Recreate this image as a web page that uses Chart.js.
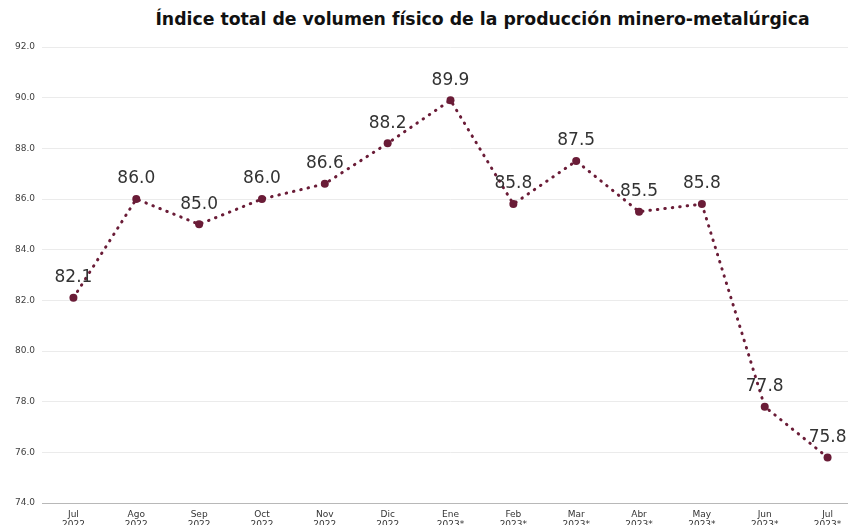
<!DOCTYPE html>
<html>
<head>
<meta charset="utf-8">
<script src="https://cdn.jsdelivr.net/npm/chart.js@4"></script>
<style>
  html, body { margin: 0; padding: 0; background: #fff; overflow: hidden; }
  #title {
    position: absolute; left: 100px; top: 9px; width: 765px;
    text-align: center; white-space: nowrap;
    font-family: "DejaVu Sans", sans-serif; font-weight: bold; font-size: 17.3px; color: #111;
  }
  #wrap { position: absolute; left: 0; top: 0; width: 863px; height: 525px; }
</style>
</head>
<body>
<div id="title">Índice total de volumen físico de la producción minero-metalúrgica</div>
<div id="wrap"><canvas id="chart"></canvas></div>
<script>
const months = ['Jul', 'Ago', 'Sep', 'Oct', 'Nov', 'Dic', 'Ene', 'Feb', 'Mar', 'Abr', 'May', 'Jun', 'Jul'];
const years = ['2022', '2022', '2022', '2022', '2022', '2022', '2023*', '2023*', '2023*', '2023*', '2023*', '2023*', '2023*'];
const indexValues = [82.1, 86.0, 85.0, 86.0, 86.6, 88.2, 89.9, 85.8, 87.5, 85.5, 85.8, 77.8, 75.8];

const maroon = '#6a1c37';

// draws the value above each point
const valueLabels = {
    id: 'valueLabels',
    afterDatasetsDraw(chart) {
        const ctx = chart.ctx;
        const meta = chart.getDatasetMeta(0);
        ctx.save();
        ctx.font = '17px "DejaVu Sans", sans-serif';
        ctx.fillStyle = '#333333';
        ctx.textAlign = 'center';
        ctx.textBaseline = 'middle';
        meta.data.forEach((pt, i) => {
            ctx.fillText(indexValues[i].toFixed(1), pt.x, pt.y - 20);
        });
        ctx.restore();
    }
};

new Chart(document.getElementById('chart'), {
    type: 'line',
    data: {
        labels: months.map((m, i) => [m, years[i]]),
        datasets: [{
            data: indexValues,
            borderColor: maroon,
            borderWidth: 3,
            borderDash: [0.5, 7],
            borderCapStyle: 'round',
            pointRadius: 4,
            pointBackgroundColor: maroon,
            pointBorderColor: maroon,
            pointBorderWidth: 0,
            tension: 0,
            fill: false
        }]
    },
    options: {
        responsive: true,
        maintainAspectRatio: false,
        animation: false,
        events: [],
        layout: { padding: { top: 47, left: 0, right: 0, bottom: 0 } },
        plugins: {
            legend: { display: false },
            tooltip: { enabled: false }
        },
        scales: {
            x: {
                offset: true,
                grid: { display: false, drawTicks: false },
                border: { display: true, color: '#b8b8b8', width: 1 },
                ticks: {
                    padding: 7,
                    maxRotation: 0,
                    autoSkip: false,
                    color: '#333333',
                    font: { family: '"DejaVu Sans", sans-serif', size: 9, lineHeight: 1.1 }
                },
                afterFit: s => { s.height = 22; }
            },
            y: {
                min: 74,
                max: 92,
                grid: { color: '#ebebeb', drawTicks: false },
                border: { display: false },
                ticks: {
                    stepSize: 2,
                    padding: 7,
                    color: '#404040',
                    font: { family: '"DejaVu Sans", sans-serif', size: 9 },
                    callback: v => v.toFixed(1)
                },
                afterFit: s => { s.width = 42; }
            }
        }
    },
    plugins: [valueLabels]
});
</script>
</body>
</html>
